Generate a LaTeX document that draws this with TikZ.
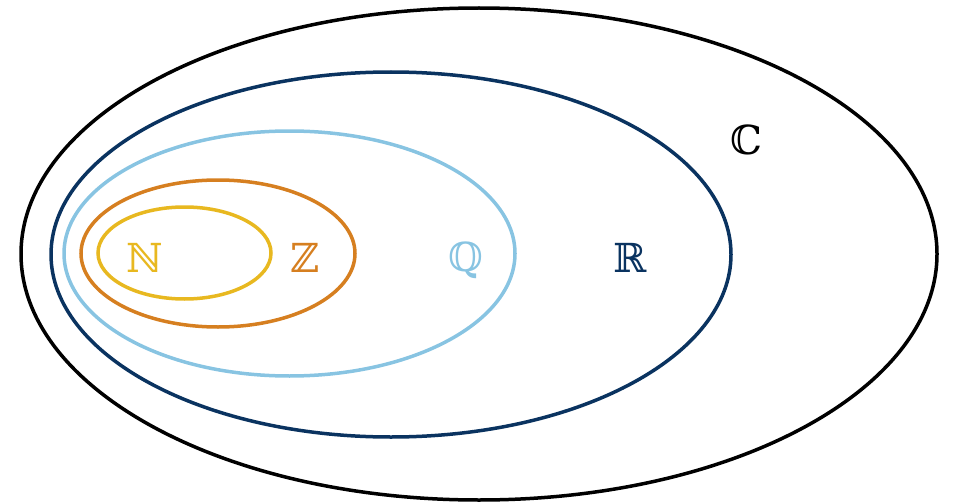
\documentclass[tikz,border=0pt]{standalone}
\usepackage{fontspec}
\newfontfamily\dsfont{DejaVu Serif}
\definecolor{cyel}{HTML}{E8B820}
\definecolor{corg}{HTML}{D67F20}
\definecolor{clbl}{HTML}{88C4E2}
\definecolor{cdbl}{HTML}{0A3360}
\begin{document}
\begin{tikzpicture}[x=1pt,y=-1pt,
  setring/.style={line width=3.5pt},
  setlabel/.style={font=\dsfont\fontsize{40}{40}\selectfont, inner sep=0pt}]
\useasboundingbox (0,0) rectangle (956,503);
\draw[setring, black] (479,254) ellipse [x radius=458, y radius=246];
\draw[setring, cdbl] (391,254.5) ellipse [x radius=340, y radius=182.5];
\draw[setring, clbl] (289.5,253.5) ellipse [x radius=225.5, y radius=122.5];
\draw[setring, corg] (218,253.5) ellipse [x radius=137, y radius=73.5];
\draw[setring, cyel] (184.5,253) ellipse [x radius=86.5, y radius=46];
\node[setlabel, text=cyel] (N) at (145,258) {ℕ};
\node[setlabel, text=corg] (Z) at (305,258) {ℤ};
\node[setlabel, text=clbl] (Q) at (466,260) {ℚ};
\node[setlabel, text=cdbl] (R) at (630,258) {ℝ};
\node[setlabel, text=black] (C) at (746,140) {ℂ};
\end{tikzpicture}
\end{document}
